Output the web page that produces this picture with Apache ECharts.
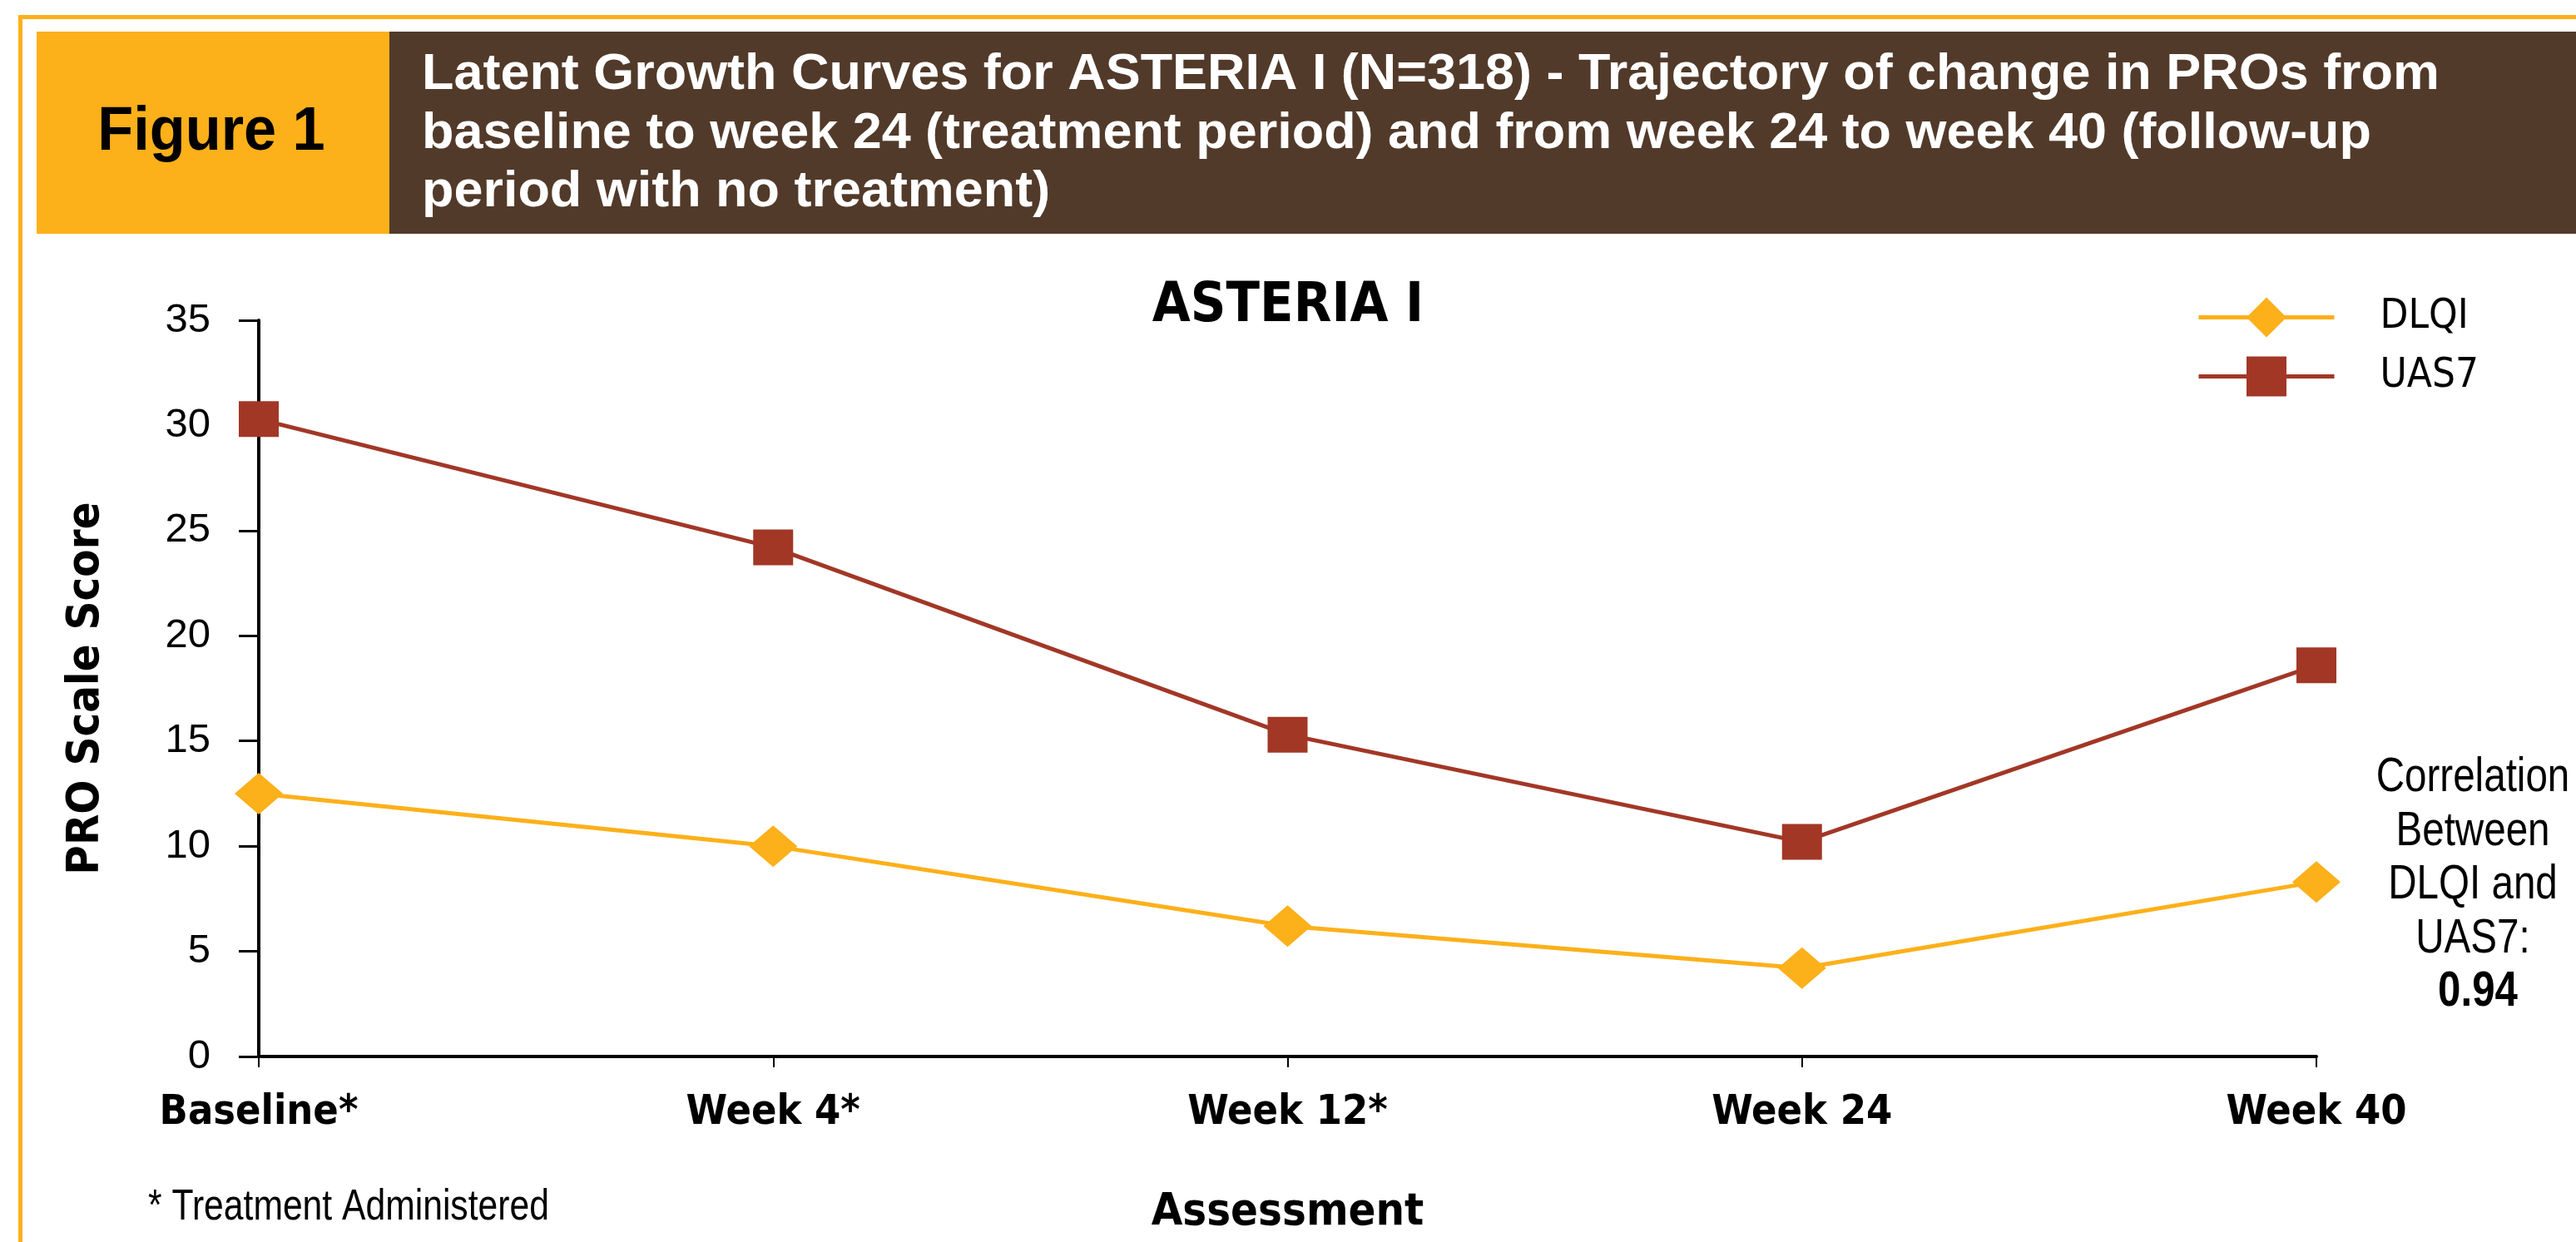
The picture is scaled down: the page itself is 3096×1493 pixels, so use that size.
<!DOCTYPE html>
<html><head><meta charset="utf-8">
<script src="https://cdn.jsdelivr.net/npm/echarts@6/dist/echarts.min.js"></script>
<style>html,body{margin:0;padding:0;background:#fff}#c{width:3096px;height:1493px}</style>
</head><body><div id="c"></div>
<script>
// ---- data ----
const categories = ['Baseline*', 'Week 4*', 'Week 12*', 'Week 24', 'Week 40'];
const dlqi = [12.5, 10.0, 6.2, 4.2, 8.3];
const uas7 = [30.3, 24.2, 15.3, 10.2, 18.6];
const seriesNames = ['DLQI', 'UAS7'];
const yMin = 0, yMax = 35, yStep = 5;
const headerLabel = 'Figure 1';
const headerTitleLines = [
  'Latent Growth Curves for ASTERIA I (N=318) - Trajectory of change in PROs from',
  'baseline to week 24 (treatment period) and from week 24 to week 40 (follow-up',
  'period with no treatment)'
];
const chartTitle = 'ASTERIA I';
const correlationLines = ['Correlation', 'Between', 'DLQI and', 'UAS7:'];
const correlationValue = '0.94';
const footnote = '* Treatment Administered';
const xAxisName = 'Assessment';
const yAxisName = 'PRO Scale Score';

// ---- styles ----
const COND = "'DejaVu Sans Condensed', 'Liberation Sans', sans-serif";
const WIDE = "'Liberation Sans', Arial, sans-serif";
const NARROW_SCALE = 0.82;
const ORANGE = '#FCB01A';
const RED = '#A23726';
const BROWN = '#523A2A';

const chart = echarts.init(document.getElementById('c'), null, {renderer: 'canvas'});

function scaledText(text, x, y, size, weight, fill, align, sx) {
  return {
    type: 'text', x: x, y: y, scaleX: sx, scaleY: 1,
    style: {text: text, fill: fill, fontFamily: WIDE, fontWeight: weight, fontSize: size,
            align: align, verticalAlign: 'middle'}
  };
}

const graphics = [
  {type: 'rect', shape: {x: 24.5, y: 20.5, width: 3200, height: 1600},
   style: {fill: 'none', stroke: ORANGE, lineWidth: 5}, silent: true},
  {type: 'rect', shape: {x: 44, y: 38, width: 424, height: 243}, style: {fill: ORANGE}},
  {type: 'rect', shape: {x: 468, y: 38, width: 2700, height: 243}, style: {fill: BROWN}},
  scaledText(headerLabel, 254, 160, 74, 'bold', '#000', 'center', 0.95)
];
const titleCenters = [90, 161, 231];
headerTitleLines.forEach((t, i) => graphics.push(
  scaledText(t, 507, titleCenters[i], 62, 'bold', '#fff', 'left', 1.015)
));
const corrCenters = [935, 1000, 1064, 1129];
correlationLines.forEach((t, i) => graphics.push(
  scaledText(t, 2972, corrCenters[i], 58, 'normal', '#000', 'center', NARROW_SCALE)
));
graphics.push(scaledText(correlationValue, 2978, 1192, 60, 'bold', '#000', 'center', NARROW_SCALE));
graphics.push(scaledText(footnote, 178, 1452, 52, 'normal', '#000', 'left', NARROW_SCALE));

const option = {
  animation: false,
  backgroundColor: '#fff',
  title: {
    text: chartTitle, left: 'center', top: 331,
    textStyle: {fontFamily: COND, fontWeight: 'bold', fontSize: 66, color: '#000'}
  },
  legend: {
    data: seriesNames, orient: 'vertical', left: 2635, top: 352,
    itemWidth: 163, itemHeight: 60, itemGap: 22,
    lineStyle: {width: 5},
    textStyle: {fontFamily: COND, fontSize: 49, color: '#000', padding: [0, 0, 0, 50]}
  },
  grid: {left: 311, right: 312, top: 385, bottom: 223, containLabel: false},
  xAxis: {
    type: 'category', data: categories, boundaryGap: false,
    name: xAxisName, nameLocation: 'middle', nameGap: 161,
    nameTextStyle: {fontFamily: COND, fontWeight: 'bold', fontSize: 54, color: '#000'},
    axisLine: {show: true, lineStyle: {color: '#000', width: 4}},
    axisTick: {show: true, alignWithLabel: true, length: 13, lineStyle: {color: '#000', width: 2}},
    axisLabel: {fontFamily: COND, fontWeight: 'bold', fontSize: 50, color: '#000', margin: 43},
    splitLine: {show: false}
  },
  yAxis: {
    type: 'value', min: yMin, max: yMax, interval: yStep,
    name: yAxisName, nameLocation: 'middle', nameGap: 180,
    nameTextStyle: {fontFamily: COND, fontWeight: 'bold', fontSize: 54, color: '#000'},
    axisLine: {show: true, lineStyle: {color: '#000', width: 4}},
    axisTick: {show: true, length: 24, lineStyle: {color: '#000', width: 3}},
    axisLabel: {fontFamily: WIDE, fontSize: 49, color: '#000', margin: 58},
    splitLine: {show: false}
  },
  series: [
    {name: seriesNames[0], type: 'line', data: dlqi, symbol: 'diamond', symbolSize: [58, 50],
     itemStyle: {color: ORANGE}, lineStyle: {color: ORANGE, width: 5}, z: 3},
    {name: seriesNames[1], type: 'line', data: uas7, symbol: 'rect', symbolSize: [48, 43],
     itemStyle: {color: RED}, lineStyle: {color: RED, width: 5}, z: 4}
  ],
  graphic: graphics
};
chart.setOption(option);
</script>
</body></html>
